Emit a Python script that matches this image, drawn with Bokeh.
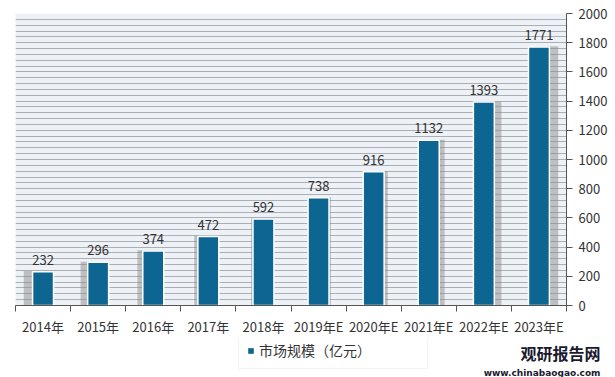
from bokeh.plotting import figure
from bokeh.layouts import column, row
from bokeh.models import (ColumnDataSource, FixedTicker, Range1d, Legend, LegendItem,
                          SingleIntervalTicker, LabelSet, Title)
from bokeh.core.properties import value
from bokeh.embed import file_html
from bokeh.resources import INLINE

categories = ["2014年", "2015年", "2016年", "2017年", "2018年",
              "2019年E", "2020年E", "2021年E", "2022年E", "2023年E"]
values = [232, 296, 374, 472, 592, 738, 916, 1132, 1393, 1771]
y_ticks = [0, 200, 400, 600, 800, 1000, 1200, 1400, 1600, 1800, 2000]
series_name = "市场规模（亿元）"
brand_name = "观研报告网"
brand_url = "www.chinabaogao.com"

FONT = "Noto Sans CJK SC"
BAR = "#0d6591"
n = len(categories)
xs = [i + 0.5 for i in range(n)]
shadow_x = [x + (i - (n - 1) / 2) / ((n - 1) / 2) * 0.14 for i, x in enumerate(xs)]

src = ColumnDataSource(dict(x=xs, sx=shadow_x, top=values,
                            stop=[v + 4 for v in values],
                            lbl=[str(v) for v in values]))

p = figure(width=615, height=337, output_backend="svg", toolbar_location=None,
           x_range=Range1d(0, n), y_range=Range1d(0, 2000),
           y_axis_location="right",
           min_border_left=15, min_border_right=0, min_border_top=13, min_border_bottom=0)
p.frame_width = 551
p.frame_height = 292
p.outline_line_color = None
p.border_fill_color = "white"
p.background_fill_color = "#eef2f6"

p.xgrid.visible = False
p.ygrid.ticker = SingleIntervalTicker(interval=40)
p.ygrid.grid_line_color = "#a8afb7"
p.ygrid.grid_line_width = 1

# shadows
p.vbar(x="sx", top="stop", width=0.42, source=src, fill_color="#8c8c8c",
       fill_alpha=0.5, line_color=None)
p.vbar(x="x", top="top", width=0.38, source=src, fill_color=BAR,
       line_color="white", line_width=1.5)

labels = LabelSet(x="x", y="top", text="lbl", source=src, text_align="center",
                  text_baseline="bottom", y_offset=7, text_font_size="13px",
                  text_color="#333333", text_font=value(FONT))
p.add_layout(labels)

yax = p.yaxis[0]
yax.ticker = FixedTicker(ticks=y_ticks)
yax.axis_line_color = "#555555"
yax.major_tick_line_color = "#555555"
yax.major_tick_out = 6
yax.major_tick_in = 0
yax.minor_tick_line_color = None
yax.major_label_text_font = FONT
yax.major_label_text_font_size = "13px"
yax.major_label_text_color = "#333333"
yax.major_label_standoff = 6

xax = p.xaxis[0]
xax.ticker = FixedTicker(ticks=xs, minor_ticks=list(range(n + 1)))
xax.major_label_overrides = {x: c for x, c in zip(xs, categories)}
xax.axis_line_color = "#555555"
xax.major_tick_line_color = None
xax.minor_tick_line_color = "#555555"
xax.minor_tick_out = 6
xax.minor_tick_in = 0
xax.major_label_text_font = FONT
xax.major_label_text_font_size = "13px"
xax.major_label_text_color = "#333333"
xax.major_label_standoff = 5

# bottom-left strip: legend
q = figure(width=470, height=40, output_backend="svg", toolbar_location=None,
           x_range=Range1d(0, 470), y_range=Range1d(40, 0),
           min_border=0)
q.frame_width = 470
q.frame_height = 40
q.axis.visible = False
q.grid.visible = False
q.outline_line_color = None
q.background_fill_color = "white"
q.border_fill_color = "white"

dummy = q.rect(x=[-100], y=[-100], width=1, height=1, fill_color=BAR, line_color=None)
legend = Legend(items=[LegendItem(label=series_name, renderers=[dummy])],
                location=(238, 9), orientation="horizontal",
                label_text_font=FONT, label_text_font_size="14px",
                label_text_color="#333333", glyph_width=7, glyph_height=7,
                border_line_color="#e6e6e6", background_fill_color="white",
                padding=8, margin=0, label_standoff=5, label_width=160)
q.add_layout(legend, "center")

# bottom-right strip: brand as titles
b = figure(output_backend="svg", toolbar_location=None,
           min_border_left=0, min_border_right=15, min_border_top=0, min_border_bottom=0)
b.frame_width = 130
b.frame_height = 1
b.axis.visible = False
b.grid.visible = False
b.outline_line_color = None
b.background_fill_color = "white"
b.border_fill_color = "white"
b.title = Title(text=brand_name, align="right", text_font=FONT, text_font_style="bold",
                text_font_size="16px", text_color="#1a1a2e", standoff=0, offset=0)
b.add_layout(Title(text=brand_url, align="right", text_font="DejaVu Sans",
                   text_font_style="bold", text_font_size="9px", text_color="#1a1a2e",
                   standoff=0, offset=0), "below")

layout = column(p, row(q, b, spacing=0), spacing=0)
open("out.html", "w").write(file_html(layout, INLINE))
